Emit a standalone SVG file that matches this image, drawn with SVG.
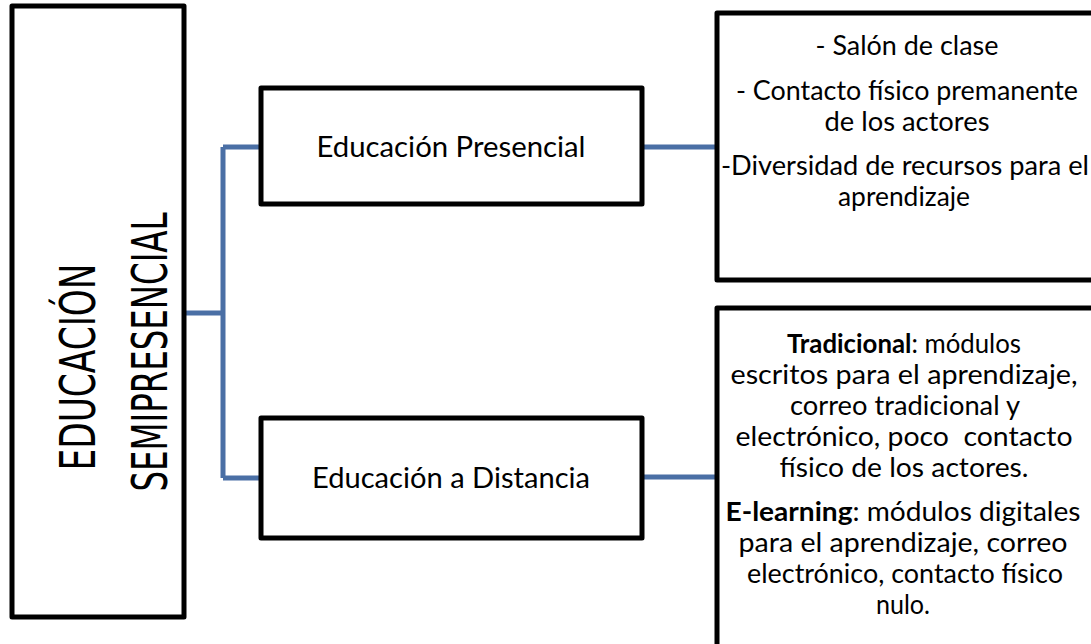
<svg xmlns="http://www.w3.org/2000/svg" width="1091" height="644" viewBox="0 0 1091 644">
<style>
.box{fill:#fff;stroke:#000;stroke-width:5;stroke-linejoin:round}
.conn{fill:none;stroke:#4a6fa5;stroke-width:5}
.t{font-family:Lato,"Open Sans","Noto Sans",sans-serif;font-size:27px;fill:#000;text-anchor:middle}
.m{font-size:28px}
.h{font-family:"Liberation Sans Narrow","DejaVu Sans Condensed","Liberation Sans",sans-serif;font-size:50px;fill:#000;text-anchor:middle}
</style>
<rect width="1091" height="644" fill="#fff"/>
<g id="connectors">
<path class="conn" d="M184 313 H223 M223 147 V478 M223 147 H261 M223 478 H261 M642 147 H717 M642 477 H717"/>
</g>
<g id="node-semipresencial">
<rect class="box" x="12" y="6" width="172" height="611"/>
<text class="h" transform="translate(95 367) rotate(-90)" textLength="207" lengthAdjust="spacingAndGlyphs">EDUCACIÓN</text>
<text class="h" transform="translate(167 352) rotate(-90)" textLength="279" lengthAdjust="spacingAndGlyphs">SEMIPRESENCIAL</text>
</g>
<g id="node-presencial">
<rect class="box" x="261" y="88" width="381" height="116"/>
<text class="t m" x="451" y="157" textLength="269" lengthAdjust="spacingAndGlyphs">Educación Presencial</text>
</g>
<g id="node-distancia">
<rect class="box" x="261" y="418" width="381" height="120"/>
<text class="t m" x="451" y="488" textLength="278" lengthAdjust="spacingAndGlyphs">Educación a Distancia</text>
</g>
<g id="node-presencial-detalle">
<rect class="box" x="717" y="13" width="400" height="267"/>
<text class="t" x="907" y="55" textLength="183" lengthAdjust="spacingAndGlyphs">- Salón de clase</text>
<text class="t" x="907" y="100" textLength="342" lengthAdjust="spacingAndGlyphs">- Contacto físico premanente</text>
<text class="t" x="907" y="131" textLength="165" lengthAdjust="spacingAndGlyphs">de los actores</text>
<text class="t" x="905" y="175" textLength="368" lengthAdjust="spacingAndGlyphs">-Diversidad de recursos para el</text>
<text class="t" x="904" y="206" textLength="132" lengthAdjust="spacingAndGlyphs">aprendizaje</text>
</g>
<g id="node-distancia-detalle">
<rect class="box" x="717" y="308" width="400" height="350"/>
<text class="t" x="904" y="353" textLength="234" lengthAdjust="spacingAndGlyphs"><tspan font-weight="bold">Tradicional</tspan>: módulos</text>
<text class="t" x="904" y="384" textLength="347" lengthAdjust="spacingAndGlyphs">escritos para el aprendizaje,</text>
<text class="t" x="905" y="415" textLength="230" lengthAdjust="spacingAndGlyphs">correo tradicional y</text>
<text class="t" x="904" y="446" textLength="337" lengthAdjust="spacingAndGlyphs" xml:space="preserve">electrónico, poco  contacto</text>
<text class="t" x="904" y="477" textLength="249" lengthAdjust="spacingAndGlyphs">físico de los actores.</text>
<text class="t" x="903" y="521" textLength="355" lengthAdjust="spacingAndGlyphs"><tspan font-weight="bold">E-learning</tspan>: módulos digitales</text>
<text class="t" x="903" y="552" textLength="329" lengthAdjust="spacingAndGlyphs">para el aprendizaje, correo</text>
<text class="t" x="905" y="583" textLength="316" lengthAdjust="spacingAndGlyphs">electrónico, contacto físico</text>
<text class="t" x="903" y="614" textLength="54" lengthAdjust="spacingAndGlyphs">nulo.</text>
</g>
</svg>
